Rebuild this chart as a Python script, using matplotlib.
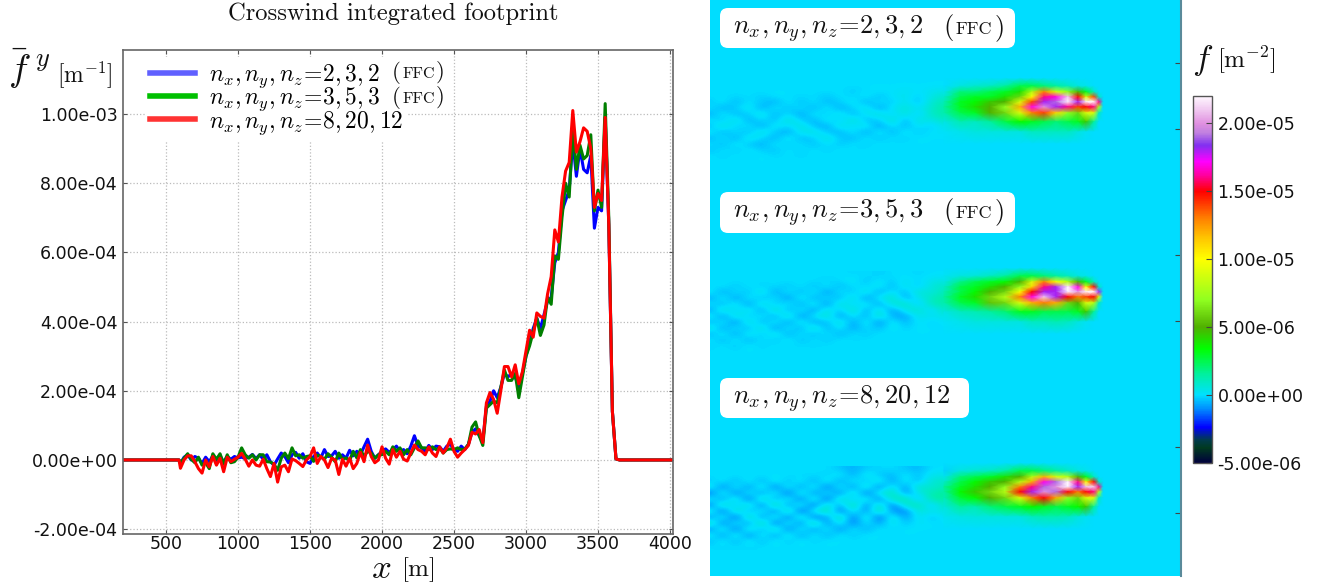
import numpy as np
import matplotlib
matplotlib.use("Agg")
import matplotlib.pyplot as plt
from matplotlib.colors import LinearSegmentedColormap, Normalize
from matplotlib.lines import Line2D
from matplotlib.patches import FancyBboxPatch

plt.rcParams['mathtext.fontset'] = 'cm'
plt.rcParams['font.family'] = 'DejaVu Sans'

# ---------- crosswind integrated footprint, values in 1e-5 m^-1, x every 25 m from 600 to 3650
x_start = 600
x_step = 25
red_low = [-2.4,0,1.2,1.2,-.5,-2.5,-3.8,0,-2,1,
           -1.5,.5,-3.4,.8,-.5,.2,.8,1.9,.2,-1.8,
           0,-1.5,-1.8,.2,-2.5,-4.8,-1,-6.4,-2,-1.5,
           -3.4,.3,-.2,-1,-1.9,0,1,3.5,-1,1,
           0,-2.2,.5,0,-4.2,.2,-1.8,.5,-2.5,-1,
           2.2,-.5,4.3,1,-.8,0,3.8,.5,-1.2,3,
           .8,2.5,.2,-.3,2,4.3,3,2.5,1.5,3.8,
           2,1]
red_high = [3.8,2.0,3.5,6.0,2.5,0.8,2.0,3.0,4.2,8.0,
            7.5,8.8,5.0,16.5,19.5,17.5,13.5,20,27,27,
            24,27.5,22,25.5,31.5,37.5,35.5,42.5,41.5,41,
            48,53,66.5,63,76,83.5,86,101,89,92,
            96,95,90,73,77,75,99,68,14,0.3,0]
blue_low = [-1,.8,1.5,0,1,.5,-1,.8,-.5,1.2,
            -.5,1.2,-.6,1,.2,1,.6,.8,.4,.8,
            1.6,.4,1.5,.2,1.5,-.5,-1.5,.3,2,1,
            -.8,1.5,2.2,.5,1.8,-.5,-1,1,2,.6,
            3,1,1.2,2.5,.5,1.5,.5,2.8,1.2,2.5,
            1.5,3.8,6,2.5,.5,1.5,2.5,3.2,2.2,3,
            4,2.5,3,1.8,4,7,4,3.5,2.5,4.2,
            3,4]
blue_high = [3.8,2.5,4,4.5,3,2.5,4,3,4.5,8,
             9,7,5.5,15.5,17,20,18,21,25,24,
             25,24,21,25,30,34,38,41,38,42,
             46,47,57,60,72,75,78,92,82,90,
             84,83,88,67,73,72,99,68,14,0.3,0]
green_low = [-.8,.5,1.8,.2,-.8,.8,-1.5,-.8,-2.5,1.8,
             .2,1.8,-1.2,1.5,-.8,-.5,.8,3.5,1.5,.5,
             1.5,0,1.5,1.5,-.5,-.6,-1.2,-3,.5,2,
             .4,3.5,1.2,1.5,.5,1,1.2,-.4,1.4,1,
             .2,1.8,.8,-.5,2,.2,.6,-.2,2.5,.6,
             3,1,2.5,2,.5,1.5,1.5,2.5,1.5,3.8,
             2.5,3.5,1.5,3,1.5,3.5,5.5,3.5,3.5,3,
             3.8,3]
green_high = [3.5,2.0,3.0,3.2,3.0,3.5,3,3.2,4.5,9.5,
              11,7,4.2,15,16,17,16.5,21,26,23,
              23,25,18,24,30,33,37,41,36,39,
              47,45,59,58,70,80,76,96,84,91,
              87,88,94,72,78,73,103,70,14,0.3,0]
series_labels = [r'$n_x,n_y,n_z\!=\!2,3,2\ \ \ \ \ \ \ $',
                 r'$n_x,n_y,n_z\!=\!3,5,3$',
                 r'$n_x,n_y,n_z\!=\!8,20,12$']
y_ticks = [-2e-4, 0, 2e-4, 4e-4, 6e-4, 8e-4, 1e-3]
x_ticks = [500, 1000, 1500, 2000, 2500, 3000, 3500, 4000]

# ---------- footprint field estimated on coarse grids
# far-field tail, values in 1e-7 m^-2
tail_cols = [710,723,736,749,762,775,788,801,814,827,840,853,866,879,892,905,918,931,944]
tail_rows = [84,90,96,102,108,114,120,126,132,138,144,150,156,162]
tail_1 = [
 [0,0,0,0,0,0,0,0,0,0,0,0,0,0,0,0,0,0,0],
 [0,0,0,0,0,0,0,0,0,0,0,-2,0,1,0,2,0,2,3],
 [0,0,-1,0,-2,1,0,-1,0,-3,1,-2,2,-4,1,3,-2,4,8],
 [-3,2,-5,1,-3,-6,2,-4,1,-5,-2,3,-6,1,-3,4,-5,7,12],
 [1,-6,-2,4,-7,2,-4,1,-6,3,-7,-1,4,-8,2,6,1,8,15],
 [-7,3,-5,-2,5,-6,1,-8,3,-3,5,-6,2,6,-3,7,-4,10,13],
 [2,-4,6,-7,1,-5,7,-2,-6,4,-4,8,-5,-2,8,-6,6,3,10],
 [-5,7,-3,2,-8,4,-2,6,-4,-7,6,-2,5,-9,2,-5,2,-3,4],
 [3,-6,1,-5,6,-3,-7,3,5,-3,-6,3,-8,4,-6,3,-3,1,1],
 [-6,2,-7,5,-1,-6,4,-5,-2,6,-3,-5,2,-4,1,-2,1,0,0],
 [1,-5,3,-3,-6,2,-3,1,-4,1,-3,1,-2,1,-1,0,0,0,0],
 [-4,1,-3,2,-2,-3,1,-2,1,-2,1,-1,0,0,0,0,0,0,0],
 [1,-2,1,-1,1,-1,0,-1,0,0,0,0,0,0,0,0,0,0,0],
 [0,0,0,0,0,0,0,0,0,0,0,0,0,0,0,0,0,0,0],
]
tail_2 = [
 [0,0,0,0,0,0,0,0,0,0,0,-1,0,-2,0,0,-1,0,0],
 [0,0,0,0,0,0,0,0,0,-2,0,2,-3,1,-2,2,-1,3,4],
 [-1,1,-3,1,-2,0,-3,1,-4,2,-5,1,-2,4,-6,5,-4,6,9],
 [3,-7,1,-4,6,-8,2,-5,3,-9,2,-4,6,-8,3,-6,8,4,12],
 [-8,4,-9,3,-5,2,-10,5,-7,1,-6,7,-10,3,9,-7,2,10,15],
 [2,-6,5,-10,7,-4,3,-8,6,-11,8,-3,5,-9,6,10,-5,11,13],
 [-9,8,-3,6,-9,10,-7,4,-10,6,-4,10,-8,7,-10,4,9,-3,10],
 [5,-10,7,-4,3,-8,9,-11,2,8,-10,3,-7,9,-6,-8,4,2,4],
 [-6,3,-11,8,-7,4,-9,6,-8,-4,7,-9,5,-11,4,-6,2,-2,1],
 [7,-8,2,-6,8,-10,3,-7,9,-7,3,-8,1,-5,3,-2,1,0,0],
 [-6,4,-8,5,-4,6,-7,2,-5,2,-6,1,-3,1,-1,0,0,0,0],
 [2,-5,3,-6,2,-4,3,-4,1,-3,1,-1,0,0,0,0,0,0,0],
 [-2,1,-3,2,-2,1,-1,0,-1,0,0,0,0,0,0,0,0,0,0],
 [0,0,0,0,0,0,0,0,0,0,0,0,0,0,0,0,0,0,0],
]
tail_3 = [
 [0,0,0,0,0,0,0,0,0,0,-3,-6,-2,-1,0,-3,-5,0,0],
 [0,0,0,0,0,0,0,-1,0,-2,3,-7,4,-3,-5,2,-4,3,3],
 [-3,2,-5,3,-6,4,-4,3,-7,5,-8,3,-4,6,-9,4,-6,7,9],
 [6,-12,4,-10,7,-13,5,-9,6,-14,5,-11,9,-13,6,-10,9,6,12],
 [-15,7,-13,4,-9,6,-16,8,-11,3,-12,10,-15,5,12,-11,4,12,16],
 [5,-10,9,-16,12,-8,6,-14,10,-17,11,-6,8,-14,10,14,-8,14,14],
 [-14,12,-6,10,-15,15,-11,7,-16,9,-8,15,-13,11,-15,8,13,-5,11],
 [9,-17,12,-8,6,-14,14,-18,5,13,-16,6,-12,14,-10,-12,7,3,5],
 [-11,7,-18,14,-12,8,-15,11,-14,-7,13,-15,9,-17,8,-10,4,-4,2],
 [12,-14,5,-11,15,-16,6,-13,15,-12,6,-14,3,-9,5,-4,2,0,0],
 [-12,8,-15,9,-8,11,-13,5,-10,4,-11,3,-7,2,-2,1,0,0,0],
 [5,-10,7,-12,5,-9,6,-8,3,-6,2,-3,1,0,0,0,0,0,0],
 [-5,3,-6,4,-5,3,-3,2,-2,1,0,0,0,0,0,0,0,0,0],
 [0,-1,0,-1,0,0,0,0,0,0,0,0,0,0,0,0,0,0,0],
]
# near-field head, values in 1e-6 m^-2
head_cols = [944,960,975,990,1005,1020,1032,1044,1056,1068,1078,1086,1094,1099,1103]
head_rows = [78,86,92,97,102,107,113,122,132,144,158]
head_1 = [
 [0,0,0,0,0,0,0,0,0,0,0,0,0,0,0],
 [0,.5,.8,1,1.5,2.5,2.5,2,1.5,1,.5,.3,0,0,0],
 [.3,2,2,2.5,3,4,8,13,9,7,5,3,1,0,0],
 [.8,2.5,3,3,4,6,10,16,17,21,15,9,14,1,0],
 [1.2,3,3.5,4.5,5,9,14,18,19,24,18,22,22,16,0],
 [1.5,3,4,5,7,12,17,20,18,16,14,15,16,8,0],
 [1.3,2.5,3,5,6,9,13,14,11,7,6,9,9,1,0],
 [.4,1.2,1,1.5,2.5,3.5,3,2.5,2,2.5,3,4.5,1.5,0,0],
 [.1,.3,.5,.5,.5,.5,1,1,1,1,.5,.2,0,0,0],
 [0,0,0,0,0,0,0,0,0,0,0,0,0,0,0],
 [0,0,0,0,0,0,0,0,0,0,0,0,0,0,0],
]
head_2 = [
 [0,0,0,0,0,0,0,0,0,0,0,0,0,0,0],
 [.2,.5,.6,1,1.5,2.5,2.5,2,1.5,1,.5,.3,0,0,0],
 [.4,1.8,2.5,3,3.5,5,9,13,10,8,5,3,1,0,0],
 [.9,2.5,3,4,5,7,11,16,18,22,17,10,15,1,0],
 [1.2,2.5,3.5,5,6,10,15,18,18,23,20,23,22,18,0],
 [1.5,3,4,6,8,13,17,21,18,15,13,14,15,9,0],
 [1.3,2.5,3,5.5,6,9,12,13,12,6,5,9,8,1,0],
 [.4,1,1.2,1.5,2,3,3,2.5,2.5,2.5,3,4.5,1.5,0,0],
 [.1,.3,.5,.5,.5,.5,1,1,1.2,1,.5,.2,0,0,0],
 [0,0,0,0,0,0,0,0,0,0,0,0,0,0,0],
 [0,0,0,0,0,0,0,0,0,0,0,0,0,0,0],
]
head_3 = [
 [0,0,0,0,0,0,0,0,0,0,0,0,0,0,0],
 [-.2,.5,.8,1,1.5,2.5,2.5,2,1.5,1,.5,.3,0,0,0],
 [.3,2,2.5,3,4,5,8,12,9,8,5,3,1,0,0],
 [.9,2.5,3.5,4.5,5,8,12,17,19,22,16,10,15,1,0],
 [1.6,3,4,5,7,13,16,19,20,24,18,21,21,16,0],
 [1.4,3.5,4.5,6,8,15,18,20,19,15,13,15,16,8,0],
 [1.1,2.8,3.5,5,6,9,13,15,12,7,6,9,9,1,0],
 [.5,1.5,1.2,2,2.5,3,3.5,3,2.5,3,3.5,4.5,1.5,0,0],
 [.2,.4,.5,.5,.5,.5,1,1.2,1.2,1,.5,.2,0,0,0],
 [0,0,0,0,0,0,0,0,0,0,0,0,0,0,0],
 [0,0,0,0,0,0,0,0,0,0,0,0,0,0,0],
]
panel_offsets = [0, 190, 385]
tails = [tail_1, tail_2, tail_3]
heads = [head_1, head_2, head_3]
box_labels = [r'$n_x,n_y,n_z\!=\!2,3,2$',
              r'$n_x,n_y,n_z\!=\!3,5,3$',
              r'$n_x,n_y,n_z\!=\!8,20,12$']
cbar_ticks = [-5e-6, 0, 5e-6, 1e-5, 1.5e-5, 2e-5]
panel_ticks = [63, 129, 255, 321, 447, 513]

W, H = 1323, 588
fig = plt.figure(figsize=(W/100, H/100), dpi=100)
def rect(l, t, r, b):
    return [l/W, 1-b/H, (r-l)/W, (b-t)/H]
def ptext(xp, yp, s, **kw):
    kw.setdefault('color', '#111111')
    kw.setdefault('zorder', 10)
    return fig.text(xp/W, 1-yp/H, s, **kw)
def ffc(x0, x1, base, big, small):
    # "(FFC)" with small capitals
    ptext(x0, base, '(', family='cmr10', fontsize=big, ha='left', va='baseline')
    ptext((x0+x1)/2, base, 'FFC', family='cmr10', fontsize=small, ha='center', va='baseline')
    ptext(x1, base, ')', family='cmr10', fontsize=big, ha='right', va='baseline')

# ---------- left panel
ax = fig.add_axes(rect(123, 50, 673, 534))
x_vals = np.arange(x_start, x_start + x_step*(len(red_low)+len(red_high)), x_step)
x_full = np.concatenate([[200, 590], x_vals, [4020]])
for low, high, col in [(blue_low, blue_high, '#0000ff'),
                       (green_low, green_high, '#007f00'),
                       (red_low, red_high, '#ff0000')]:
    y = np.array([0, 0] + low + high + [0]) * 1e-5
    ax.plot(x_full, y, color=col, lw=2.2, solid_joinstyle='round')
ax.set_xlim(201, 4021)
ax.set_ylim(-2.14e-4, 1.185e-3)
ax.set_xticks(x_ticks)
ax.set_yticks(y_ticks)
ax.set_yticklabels(['-2.00e-04', '0.00e+00', '2.00e-04', '4.00e-04', '6.00e-04', '8.00e-04', '1.00e-03'])
ax.tick_params(direction='in', length=3, width=0.8, labelsize=12.5, color='#555555', labelcolor='#111111', pad=4)
ax.tick_params(axis='x', pad=1)
ax.tick_params(top=True, right=True)
ax.grid(True, ls=':', color='#bbbbbb', lw=0.9)
ax.set_axisbelow(True)
for s in ax.spines.values():
    s.set_color('#666666'); s.set_linewidth(1.2)
handles = [Line2D([], [], color=c, lw=4) for c in ['#6060ff', '#00c000', '#ff3333']]
leg = ax.legend(handles, series_labels, loc='upper left', bbox_to_anchor=(0.04, 0.985),
                fontsize=17, frameon=True, facecolor='white', edgecolor='none', framealpha=1,
                handlelength=1.9, handletextpad=0.6, labelspacing=-0.2, borderaxespad=0, borderpad=0.2)
ffc(392, 445, 78, 16.5, 11.5)
ffc(392, 445, 103, 16.5, 11.5)

ptext(393, 14, 'Crosswind integrated footprint', family='cmr10', fontsize=17.7, ha='center', va='center')
ptext(8, 68, r'$\bar{f}^{\ y}$', fontsize=27, ha='left', va='center')
ptext(57, 75, r'$[\mathrm{m}^{-1}]$', fontsize=17, ha='left', va='center')
ptext(381, 568, r'$x$', fontsize=25, ha='center', va='center')
ptext(418, 570, r'$[\mathrm{m}]$', fontsize=18, ha='center', va='center')

# ---------- colormap
anchors = [(-5.0,'#00003c'),(-3.9,'#003a20'),(-3.3,'#003a50'),(-2.4,'#0000ff'),(-1.0,'#0090ff'),(0.0,'#00e0ff'),
           (1.5,'#00f0a0'),(3.4,'#00ff00'),(5.0,'#50b000'),(7.0,'#90ff20'),(10.0,'#ffff00'),(11.5,'#ffc800'),
           (13.0,'#ff8000'),(15.0,'#ff0000'),(16.2,'#ff00a0'),(17.2,'#ff00ff'),(18.4,'#8030f0'),(19.3,'#c080e0'),
           (20.0,'#e090e0'),(21.0,'#f0c8f0'),(22.0,'#fff8ff')]
vmin, vmax = -5.0, 22.0
cmap = LinearSegmentedColormap.from_list('fp', [((v-vmin)/(vmax-vmin), c) for v, c in anchors], N=512)
norm = Normalize(vmin*1e-6, vmax*1e-6)

# ---------- right panel
axr = fig.add_axes(rect(710, 0, 1181, 576))
axr.set_facecolor(cmap(norm(0)))
dx = (tail_cols[1]-tail_cols[0])/2
dy = (tail_rows[1]-tail_rows[0])/2
for tail, head, off in zip(tails, heads, panel_offsets):
    axr.imshow(np.array(tail)*1e-7, cmap=cmap, norm=norm, interpolation='bicubic', aspect='auto',
               extent=(tail_cols[0]-dx, tail_cols[-1]+dx, tail_rows[-1]+off+dy, tail_rows[0]+off-dy))
    X, Y = np.meshgrid(head_cols, np.array(head_rows) + off)
    axr.pcolormesh(X, Y, np.array(head)*1e-6, cmap=cmap, norm=norm, shading='gouraud', rasterized=True)
axr.set_xlim(710, 1181)
axr.set_ylim(576, 0)
axr.set_xticks([])
axr.yaxis.tick_right()
axr.set_yticks(panel_ticks)
axr.set_yticklabels([])
axr.tick_params(axis='y', direction='in', length=4, width=0.8, color='#444444')
for k, s in axr.spines.items():
    s.set_visible(k == 'right')
axr.spines['right'].set_color('#5a8a9a'); axr.spines['right'].set_linewidth(1.5)

box_geo = [(720, 8, 295, 40), (720, 192, 295, 41), (720, 378, 249, 40)]
for (bx, by, bw, bh), lab in zip(box_geo, box_labels):
    axr.add_patch(FancyBboxPatch((bx+6, by+6), bw-12, bh-12, boxstyle='round,pad=6,rounding_size=8',
                                 fc='white', ec='none', zorder=5))
    axr.text(bx+13, by+26, lab, fontsize=19, va='baseline', ha='left', color='#111111', zorder=6)
ffc(943, 1005, 34, 19, 13)
ffc(943, 1005, 218, 19, 13)

# ---------- colour bar
cax = fig.add_axes(rect(1193, 96, 1212, 463))
cb = fig.colorbar(plt.cm.ScalarMappable(norm=norm, cmap=cmap), cax=cax, ticks=cbar_ticks)
cb.ax.set_yticklabels(['-5.00e-06', '0.00e+00', '5.00e-06', '1.00e-05', '1.50e-05', '2.00e-05'])
cb.ax.tick_params(direction='in', length=4, width=0.8, labelsize=12.5, color='#444444', labelcolor='#111111', pad=4)
cb.outline.set_edgecolor('#555555'); cb.outline.set_linewidth(1.0)
ptext(1192, 60, r'$f$', fontsize=25, ha='left', va='center')
ptext(1217, 60, r'$[\mathrm{m}^{-2}]$', fontsize=18, ha='left', va='center')

fig.savefig('out.png', dpi=100)
